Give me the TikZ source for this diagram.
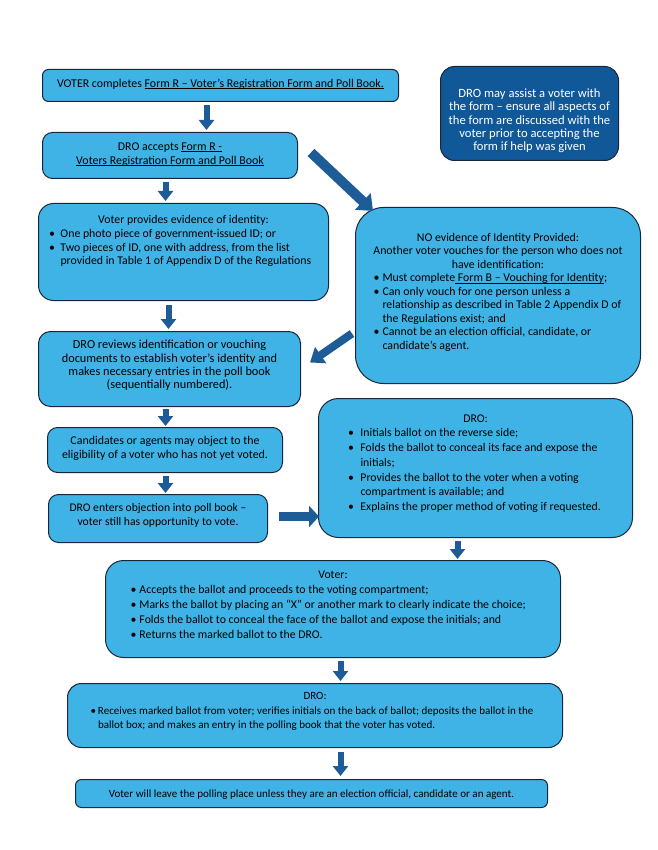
\documentclass[tikz,border=0pt]{standalone}
\usepackage{fontspec}
\setmainfont{Carlito}
\usetikzlibrary{arrows.meta,calc}
\definecolor{boxc}{RGB}{64,179,230}
\definecolor{bordc}{RGB}{24,38,58}
\definecolor{darkc}{RGB}{16,88,152}
\definecolor{arrc}{RGB}{30,92,152}
\newlength\ulw
\newcommand{\ul}[1]{\settowidth\ulw{#1}\leavevmode\rlap{\rule[-1.6pt]{\ulw}{0.6pt}}#1}
\newcommand{\bitem}[3]{\par\leftskip=#1\rightskip=0pt plus 1fil\hangindent=#2\hangafter=1\noindent\makebox[#2][l]{\textbullet}#3\par}
\newcommand{\fs}[2][11.9]{\fontsize{#1}{#2}\selectfont\parskip=0pt\parindent=0pt}
\tikzset{
  box/.style={draw=bordc, fill=boxc, line width=1pt, inner sep=0pt, anchor=north west},
  darr/.style={draw=arrc, line width=6pt, -{Triangle[length=10pt,width=15pt]}},
  harr/.style={draw=arrc, line width=8.5pt, -{Triangle[length=10pt,width=21pt]}},
  diagarr/.style={draw=arrc, line width=10pt, -{Triangle[length=14pt,width=22pt]}},
}
\begin{document}
\begin{tikzpicture}[x=1pt,y=-1pt]
\useasboundingbox (0,0) rectangle (657,850);

\node[box, rounded corners=6pt, text height=18pt, text depth=14pt] (b1) at (42,69)
  {\parbox[t]{356pt}{\fs{13.5}\centering VOTER completes \ul{Form R – Voter’s Registration Form and Poll Book.}\par}};

\node[box, rounded corners=10pt, text height=18pt, text depth=28pt] (b2) at (42,132)
  {\parbox[t]{255pt}{\fs{14}\centering DRO accepts \ul{Form R -}\\ \ul{Voters Registration Form and Poll Book}\par}};

\node[box, fill=darkc, rounded corners=14pt, text height=22.3pt, text depth=71.7pt] (dk) at (440,66)
  {\parbox[t]{178pt}{\fs[12.6]{13.35}\centering\color{white} DRO may assist a voter with\\ the form – ensure all aspects of\\ the form are discussed with the\\ voter prior to accepting the\\ form if help was given\par}};

\node[box, rounded corners=15pt, text height=20.3pt, text depth=76.7pt] (b3) at (38,203)
  {\parbox[t]{290pt}{\fs[11.8]{13.6}{\centering Voter provides evidence of identity:\par}
   \bitem{10.5pt}{11.5pt}{One photo piece of government-issued ID; or}
   \bitem{10.5pt}{11.5pt}{Two pieces of ID, one with address, from the list\\ provided in Table 1 of Appendix D of the Regulations}}};

\node[box, rounded corners=28pt, text height=33.7pt, text depth=142.3pt] (no) at (355,207)
  {\parbox[t]{285pt}{\fs[11.85]{13.5}{\centering NO evidence of Identity Provided:\\ Another voter vouches for the person who does not\\ have identification:\par}
   \bitem{18pt}{9pt}{Must complete\ul{ Form B – Vouching for Identity};}
   \bitem{18pt}{9pt}{Can only vouch for one person unless a\\ relationship as described in Table 2 Appendix D of\\ the Regulations exist; and}
   \bitem{18pt}{9pt}{Cannot be an election official, candidate, or\\ candidate’s agent.}}};

\node[box, rounded corners=12pt, text height=17.3pt, text depth=57.7pt] (rev) at (38,331)
  {\parbox[t]{262pt}{\fs[12.3]{13.35}\centering DRO reviews identification or vouching\\ documents to establish voter’s identity and\\ makes necessary entries in the poll book\\ (sequentially numbered).\par}};

\node[box, rounded corners=10pt, text height=17pt, text depth=28pt] (cand) at (47,427)
  {\parbox[t]{235pt}{\fs[11.9]{14.3}\centering Candidates or agents may object to the\\ eligibility of a voter who has not yet voted.\par}};

\node[box, rounded corners=10pt, text height=16.7pt, text depth=31.3pt] (ent) at (48,494)
  {\parbox[t]{219pt}{\fs[11.65]{14.3}\centering DRO enters objection into poll book –\\ voter still has opportunity to vote.\par}};

\node[box, rounded corners=20pt, text height=23.7pt, text depth=115.3pt] (dro) at (318,398)
  {\parbox[t]{314pt}{\fs[11.75]{14.7}{\centering DRO:\par}
   \bitem{29.5pt}{12.5pt}{Initials ballot on the reverse side;}
   \bitem{29.5pt}{12.5pt}{Folds the ballot to conceal its face and expose the\\ initials;}
   \bitem{29.5pt}{12.5pt}{Provides the ballot to the voter when a voting\\ compartment is available; and}
   \bitem{29.5pt}{12.5pt}{Explains the proper method of voting if requested.}}};

\node[box, rounded corners=18pt, text height=18pt, text depth=79pt] (vot) at (105,560)
  {\parbox[t]{455pt}{\fs[11.8]{15}{\centering Voter:\par}
   \bitem{25pt}{9pt}{Accepts the ballot and proceeds to the voting compartment;}
   \bitem{25pt}{9pt}{Marks the ballot by placing an “X” or another mark to clearly indicate the choice;}
   \bitem{25pt}{9pt}{Folds the ballot to conceal the face of the ballot and expose the initials; and}
   \bitem{25pt}{9pt}{Returns the marked ballot to the DRO.}}};

\node[box, rounded corners=14pt, text height=16pt, text depth=48pt] (drob) at (67,683)
  {\parbox[t]{495pt}{\fs[11.05]{14.5}{\centering DRO:\par}
   \bitem{23pt}{7.5pt}{Receives marked ballot from voter; verifies initials on the back of ballot; deposits the ballot in the\\ ballot box; and makes an entry in the polling book that the voter has voted.}}};

\node[box, rounded corners=6pt, text height=18pt, text depth=10pt] (fin) at (75,779)
  {\parbox[t]{472pt}{\fs[11.05]{13.5}\centering Voter will leave the polling place unless they are an election official, candidate or an agent.\par}};

% arrows
\draw[darr] ([shift={(-14,3)}]b1.south) -- ++(0,25);
\draw[darr] ([shift={(-4.5,3)}]b2.south) -- ++(0,19);
\draw[diagarr] ([shift={(13,-3)}]b2.east) -- ([shift={(18,4)}]no.north west);
\draw[darr] ([shift={(-15,4)}]b3.south) -- ++(0,24);
\draw[diagarr, line width=8pt, -{Triangle[length=13pt,width=19pt]}] ([shift={(-3,38)}]no.west) -- ([shift={(9,-6.5)}]rev.east);
\draw[darr] ([shift={(-4,2)}]rev.south) -- ++(0,17);
\draw[darr] ([shift={(0.5,3)}]cand.south) -- ++(0,17);
\draw[harr] ([shift={(11,-2)}]ent.east) -- ++(40,0);
\draw[darr] ([shift={(-18,3)}]dro.south) -- ++(0,18);
\draw[darr] ([shift={(7.5,3)}]vot.south) -- ++(0,20);
\draw[darr] ([shift={(25.5,4)}]drob.south) -- ++(0,24);
\end{tikzpicture}
\end{document}
